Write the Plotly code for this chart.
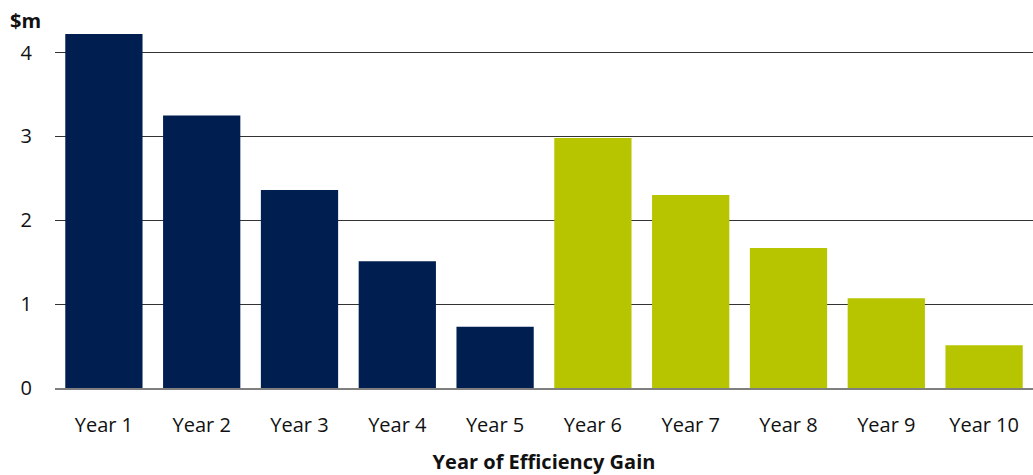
import plotly.graph_objects as go

categories = ["Year 1", "Year 2", "Year 3", "Year 4", "Year 5",
              "Year 6", "Year 7", "Year 8", "Year 9", "Year 10"]
values = [4.22, 3.25, 2.36, 1.51, 0.73, 2.98, 2.30, 1.67, 1.07, 0.51]
bar_colors = ["#001E50"] * 5 + ["#B7C400"] * 5
y_ticks = [0, 1, 2, 3, 4]

fig = go.Figure(go.Bar(
    x=categories, y=values, marker=dict(color=bar_colors, line=dict(width=0)),
    width=0.79,
))

font_family = "Open Sans, Noto Sans, sans-serif"
fig.update_layout(
    width=1033, height=475,
    margin=dict(l=55, r=0, t=19, b=87),
    plot_bgcolor="white", paper_bgcolor="white",
    showlegend=False,
    font=dict(family=font_family, size=20, color="#111111"),
    xaxis=dict(
        showgrid=False, showline=True, linecolor="#7f7f7f", linewidth=2,
        ticks="", tickfont=dict(size=20), ticklabelstandoff=18,
        title=dict(text="<b>Year of Efficiency Gain</b>", font=dict(size=20), standoff=18),
    ),
    yaxis=dict(
        range=[0, 4.4], tickvals=y_ticks, showgrid=True, gridcolor="#333333", gridwidth=1,
        zeroline=False, showline=False, ticks="", tickfont=dict(size=20),
        ticklabelstandoff=22,
    ),
    annotations=[dict(
        text="<b>$m</b>", x=0, y=1, xref="paper", yref="paper",
        xshift=-47, yshift=14, xanchor="left", yanchor="top",
        showarrow=False, font=dict(size=20, family=font_family),
    )],
)
fig.update_yaxes(layer="below traces")

fig.write_html("out.html")
